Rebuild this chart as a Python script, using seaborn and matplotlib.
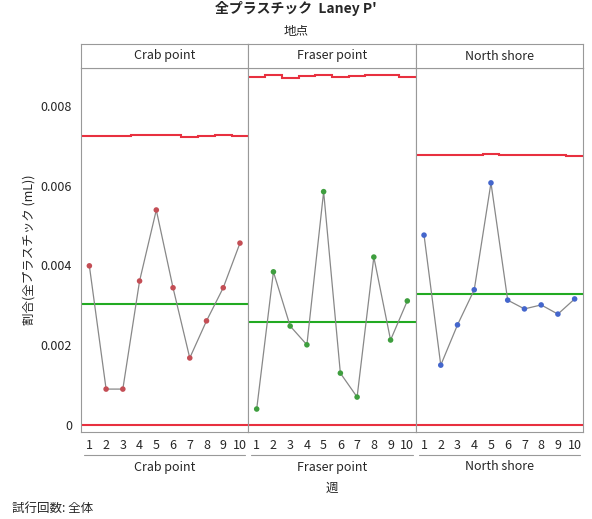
import matplotlib.pyplot as plt
import seaborn as sns
import pandas as pd

sites = ["Crab point", "Fraser point", "North shore"]
weeks = list(range(1, 11))
crab = [0.00399, 0.0009, 0.0009, 0.00361, 0.00539, 0.00344, 0.00168, 0.00261, 0.00344, 0.00456]
fraser = [0.0004, 0.00384, 0.00248, 0.00201, 0.00585, 0.0013, 0.0007, 0.00421, 0.00213, 0.00311]
north = [0.00476, 0.0015, 0.00251, 0.00339, 0.00607, 0.00313, 0.00291, 0.00301, 0.00278, 0.00316]
centers = [0.00303, 0.00258, 0.00329]
ucl_crab = [0.00725, 0.00725, 0.00724, 0.00726, 0.00727, 0.00726, 0.00723, 0.00725, 0.00726, 0.00724]
ucl_fraser = [0.00873, 0.00878, 0.00870, 0.00876, 0.00877, 0.00873, 0.00874, 0.00877, 0.00877, 0.00873]
ucl_north = [0.00676, 0.00676, 0.00677, 0.00677, 0.00679, 0.00678, 0.00678, 0.00677, 0.00676, 0.00674]
point_colors = ["#C44E55", "#3E9E3E", "#4466CC"]

sns.set_style("white")
plt.rcParams['font.family'] = ['Noto Sans CJK JP', 'DejaVu Sans']

fig = plt.figure(figsize=(5.92, 5.19), dpi=100)
W, H = 592, 519
left, right, top, bottom = 81, 583, 68, 432
pw = (right - left) / 3
values = [crab, fraser, north]
ucls = [ucl_crab, ucl_fraser, ucl_north]

for i, site in enumerate(sites):
    x0 = left + i * pw
    ax = fig.add_axes([x0 / W, 1 - bottom / H, pw / W, (bottom - top) / H])
    df = pd.DataFrame({"week": weeks, "v": values[i]})
    edges = [w - 0.5 for w in weeks] + [weeks[-1] + 0.5]
    ax.stairs(ucls[i], edges, color="#E8303F", lw=1.5, baseline=None)
    ax.axhline(0, color="#E8303F", lw=1.5)
    ax.axhline(centers[i], color="#22AA22", lw=1.5)
    sns.lineplot(data=df, x="week", y="v", ax=ax, color="#888888", lw=0.9)
    sns.scatterplot(data=df, x="week", y="v", ax=ax, color=point_colors[i], s=16, edgecolor="none", zorder=3)
    ax.set_xlim(0.5, 10.5)
    ax.set_ylim(-0.000176, 0.00895)
    ax.set_xticks(weeks)
    ax.tick_params(axis="x", labelsize=9, length=3, pad=2)
    ax.set_xlabel("")
    ax.set_ylabel("")
    for s in ax.spines.values():
        s.set_color("#999999")
    if i == 0:
        ax.set_yticks([0, 0.002, 0.004, 0.006, 0.008])
        ax.set_yticklabels(["0", "0.002", "0.004", "0.006", "0.008"])
        ax.tick_params(axis="y", labelsize=9, length=3)
        ax.set_ylabel("割合(全プラスチック (mL))", fontsize=9)
    else:
        ax.set_yticks([])
    # header strip
    hx = fig.add_axes([x0 / W, 1 - top / H, pw / W, 24 / H])
    hx.set_xticks([]); hx.set_yticks([])
    for s in hx.spines.values():
        s.set_color("#999999")
    hx.text(0.5, 0.5, site, ha="center", va="center", fontsize=9)
    # bottom group label
    fig.text((x0 + pw / 2) / W, 1 - 467 / H, site, ha="center", va="center", fontsize=9)
    fig.add_artist(plt.Line2D([(x0 + 3) / W, (x0 + pw - 3) / W], [1 - 455 / H] * 2, color="#999999", lw=0.8))

fig.text(0.5, 1 - 9 / H, "全プラスチック  Laney P'", ha="center", va="center", fontsize=10, fontweight="bold")
fig.text(0.5, 1 - 31 / H, "地点", ha="center", va="center", fontsize=9)
fig.text(left / W + (right - left) / 2 / W, 1 - 488 / H, "週", ha="center", va="center", fontsize=9)
fig.text(12 / W, 1 - 508 / H, "試行回数: 全体", ha="left", va="center", fontsize=9)

fig.savefig("out.png", dpi=100)
